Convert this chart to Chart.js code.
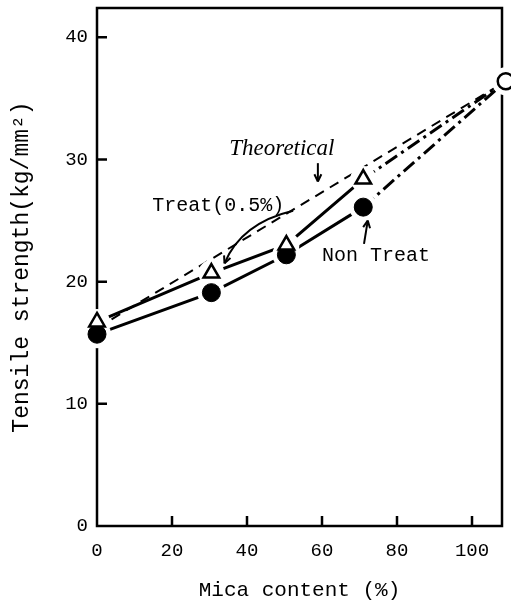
<!DOCTYPE html>
<html>
<head>
<meta charset="utf-8">
<script src="https://cdn.jsdelivr.net/npm/chart.js@4.4.1/dist/chart.umd.min.js"></script>
<style>
  html, body { margin: 0; padding: 0; background: #fff; }
  #wrap { width: 511px; height: 603px; }
</style>
</head>
<body>
<div id="wrap"><canvas id="micaChart" width="511" height="603"></canvas></div>
<script>
// values
const mica = [0, 30.5, 50.5, 71, 109];
const treat = [16.7, 20.7, 23.0, 28.4, 36.4];
const nonTreat = [15.7, 19.1, 22.2, 26.1, 36.4];
const theoryMica = [0, 109];
const theory = [16.2, 36.4];
const xTicks = [0, 20, 40, 60, 80, 100];
const yTicks = [0, 10, 20, 30, 40];

const FONT = "'Liberation Mono', 'DejaVu Sans Mono', monospace";

function pts(xs, ys) {
    return xs.map((v, i) => ({ x: v, y: ys[i] }));
}

// solid up to the last measured blend, dash-dot out to pure mica
const dashDot = ctx => ctx.p1DataIndex === mica.length - 1 ? [14, 5, 3, 5] : undefined;

// little helper for the hand-drawn arrows
function arrowHead(ctx, x, y, ang) {
    ctx.beginPath();
    ctx.moveTo(x, y);
    ctx.lineTo(x - 8 * Math.cos(ang - 0.45), y - 8 * Math.sin(ang - 0.45));
    ctx.moveTo(x, y);
    ctx.lineTo(x - 8 * Math.cos(ang + 0.45), y - 8 * Math.sin(ang + 0.45));
    ctx.stroke();
}

const frame = {
    id: 'frame',
    beforeDatasetsDraw(chart) {
        const { ctx, chartArea: a, scales: { x, y } } = chart;
        ctx.save();
        ctx.strokeStyle = '#000';
        ctx.lineWidth = 2.5;
        ctx.strokeRect(a.left, a.top, a.right - a.left, a.bottom - a.top);
        ctx.beginPath();
        xTicks.forEach(v => {
            if (v === 0) return;
            const px = x.getPixelForValue(v);
            ctx.moveTo(px, a.bottom);
            ctx.lineTo(px, a.bottom - 10);
        });
        yTicks.forEach(v => {
            if (v === 0) return;
            const py = y.getPixelForValue(v);
            ctx.moveTo(a.left, py);
            ctx.lineTo(a.left + 10, py);
        });
        ctx.stroke();
        ctx.restore();
    },
    afterDraw(chart) {
        const { ctx, scales: { x, y } } = chart;
        const X = v => x.getPixelForValue(v);
        const Y = v => y.getPixelForValue(v);
        ctx.save();
        ctx.fillStyle = '#000';
        ctx.strokeStyle = '#000';
        ctx.lineWidth = 2;
        ctx.textBaseline = 'middle';

        // Theoretical
        ctx.font = "italic 23px 'Liberation Serif', serif";
        ctx.textAlign = 'center';
        ctx.fillText('Theoretical', X(49.3), Y(30.9));
        ctx.beginPath();
        ctx.moveTo(X(58.9), Y(29.7));
        ctx.lineTo(X(58.9), Y(28.2));
        ctx.stroke();
        arrowHead(ctx, X(58.9), Y(28.2), Math.PI / 2);

        // Treat(0.5%)
        ctx.font = '20px ' + FONT;
        ctx.textAlign = 'left';
        ctx.fillText('Treat(0.5%)', X(14.7), Y(26.2));
        const sx = X(52.3), sy = Y(25.8), ex = X(34.0), ey = Y(21.5);
        const cx = X(38.5), cy = Y(24.8);
        ctx.beginPath();
        ctx.moveTo(sx, sy);
        ctx.quadraticCurveTo(cx, cy, ex, ey);
        ctx.stroke();
        arrowHead(ctx, ex, ey, Math.atan2(ey - cy, ex - cx));

        // Non Treat
        ctx.fillText('Non Treat', X(60), Y(22.1));
        const ax = X(71.2), ay = Y(23.1), bx = X(72.2), by = Y(25.0);
        ctx.beginPath();
        ctx.moveTo(ax, ay);
        ctx.lineTo(bx, by);
        ctx.stroke();
        arrowHead(ctx, bx, by, Math.atan2(by - ay, bx - ax));
        ctx.restore();
    }
};

const ctx = document.getElementById('micaChart').getContext('2d');
const micaChart = new Chart(ctx, {
    type: 'scatter',
    data: {
        datasets: [
            // lines
            {
                data: pts(theoryMica, theory), showLine: true, order: 3,
                borderColor: '#000', borderWidth: 2, borderDash: [10, 7],
                pointRadius: 0, clip: false
            },
            {
                data: pts(mica, treat), showLine: true, order: 3,
                borderColor: '#000', borderWidth: 3,
                segment: { borderDash: dashDot },
                pointRadius: 0, clip: false
            },
            {
                data: pts(mica, nonTreat), showLine: true, order: 3,
                borderColor: '#000', borderWidth: 3,
                segment: { borderDash: dashDot },
                pointRadius: 0, clip: false
            },
            // white halos that open the gaps around the markers
            {
                data: pts(mica, treat), order: 2, clip: false,
                pointStyle: 'circle', pointRadius: 13,
                backgroundColor: '#fff', borderWidth: 0
            },
            {
                data: pts(mica, nonTreat), order: 2, clip: false,
                pointStyle: 'circle', pointRadius: 14,
                backgroundColor: '#fff', borderWidth: 0
            },
            // markers
            {
                label: 'Treat(0.5%)',
                data: pts(mica, treat), order: 1, clip: false,
                pointStyle: ['triangle', 'triangle', 'triangle', 'triangle', 'circle'],
                pointRadius: [9, 9, 9, 9, 8],
                backgroundColor: '#fff', borderColor: '#000', borderWidth: 2.5
            },
            {
                label: 'Non Treat',
                data: pts(mica, nonTreat), order: 1, clip: false,
                pointStyle: 'circle',
                pointRadius: [9, 9, 9, 9, 0],
                backgroundColor: '#000', borderColor: '#000', borderWidth: 1
            }
        ]
    },
    options: {
        responsive: false,
        animation: false,
        devicePixelRatio: 1,
        layout: { autoPadding: false, padding: { top: 8, right: 9, left: 0, bottom: 0 } },
        plugins: {
            legend: { display: false },
            tooltip: { enabled: false }
        },
        scales: {
            x: {
                type: 'linear', min: 0, max: 108,
                afterBuildTicks: s => { s.ticks = xTicks.map(v => ({ value: v })); },
                afterFit: s => { s.height = 77; s.paddingLeft = 0; s.paddingRight = 0; },
                grid: { display: false, drawTicks: false },
                border: { display: false },
                ticks: { color: '#000', padding: 14, maxRotation: 0, font: { family: FONT, size: 19 } },
                title: {
                    display: true, text: 'Mica content (%)', color: '#000',
                    font: { family: FONT, size: 21 }, padding: { top: 0, bottom: 0 }
                }
            },
            y: {
                type: 'linear', min: 0, max: 42.4,
                afterBuildTicks: s => { s.ticks = yTicks.map(v => ({ value: v })); },
                afterFit: s => { s.width = 97; s.paddingTop = 0; s.paddingBottom = 0; },
                grid: { display: false, drawTicks: false },
                border: { display: false },
                ticks: { color: '#000', padding: 9, font: { family: FONT, size: 19 } },
                title: {
                    display: true, text: 'Tensile strength(kg/mm²)', color: '#000',
                    font: { family: FONT, size: 23 }, padding: { top: 8, bottom: 0 }
                }
            }
        }
    },
    plugins: [frame]
});
</script>
</body>
</html>
